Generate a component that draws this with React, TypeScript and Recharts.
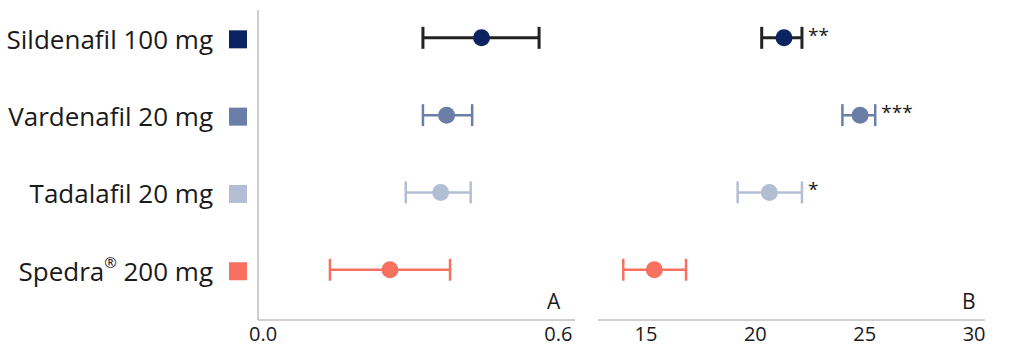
import React from "react";
import {
  ScatterChart,
  Scatter,
  XAxis,
  YAxis,
  ErrorBar,
} from "recharts";

const categories = ["Sildenafil 100 mg", "Vardenafil 20 mg", "Tadalafil 20 mg", "Spedra® 200 mg"];
const colors = ["#0b2461", "#6a7ea8", "#b3bed5", "#f8705f"];
const barColors = ["#222222", "#6a7ea8", "#b3bed5", "#f8705f"];
const barWidths = [3, 2.5, 2.5, 2.5];

// panel A
const aMean = [0.444, 0.373, 0.361, 0.258];
const aLow = [0.325, 0.325, 0.29, 0.136];
const aHigh = [0.561, 0.425, 0.422, 0.38];
const aTicks = [0, 0.6];

// panel B
const bMean = [21.31, 24.79, 20.64, 15.38];
const bLow = [20.29, 23.98, 19.19, 13.96];
const bHigh = [22.13, 25.48, 22.13, 16.83];
const bSig = ["**", "***", "*", ""];
const bTicks = [15, 20, 25, 30];

const FONT = "'Open Sans', sans-serif";
const rows = [0, 1, 2, 3];
const yDomain: [number, number] = [-0.36, 3.65];

const pointsFor = (mean: number[], low: number[], high: number[], i: number) => [
  { x: mean[i], y: i, err: [mean[i] - low[i], high[i] - mean[i]] },
];

const dot = (color: string) => (p: any) => (
  <circle cx={p.cx} cy={p.cy} r={8.5} fill={color} />
);

// splits "®" out so it can be drawn as a superscript
const labelParts = (s: string) => {
  const k = s.indexOf("®");
  if (k < 0) return <>{s}</>;
  return (
    <>
      {s.slice(0, k)}
      <tspan fontSize={15} dy={-9}>®</tspan>
      <tspan dy={9}>{s.slice(k + 1)}</tspan>
    </>
  );
};

const RowTick = (props: any) => {
  const { y, payload } = props;
  const i = payload.value as number;
  return (
    <g>
      <text
        x={213}
        y={y + 1}
        textAnchor="end"
        dominantBaseline="central"
        fontSize={26}
        fontFamily={FONT}
        fill="#1a1a1a"
      >
        {labelParts(categories[i])}
      </text>
      <rect x={229} y={y - 7.5} width={18} height={18} fill={colors[i]} />
    </g>
  );
};

const NumTick = (fmt: (v: number) => string) => (props: any) => {
  const { x, y, payload } = props;
  return (
    <text
      x={x}
      y={y + 13}
      textAnchor="middle"
      fontSize={20}
      fontFamily={FONT}
      fill="#1a1a1a"
    >
      {fmt(payload.value)}
    </text>
  );
};

const SigMark = (p: any) => (
  <text x={p.cx + 6} y={p.cy + 4} fontSize={19} fontFamily={FONT} fill="#1a1a1a">
    {p.payload.sig}
  </text>
);

export default function App() {
  const sigData = bSig
    .map((s, i) => ({ x: bHigh[i], y: i, sig: s }))
    .filter((d) => d.sig !== "");

  return (
    <div style={{ position: "absolute", left: 0, top: 0, width: 1024, height: 351, background: "#fff", fontFamily: FONT }}>
      <div style={{ position: "absolute", left: 0, top: 0 }}>
        <ScatterChart width={590} height={351} margin={{ top: 10, right: 15, bottom: 6, left: 0 }}>
          <XAxis
            type="number"
            dataKey="x"
            domain={[-0.0102, 0.634]}
            ticks={aTicks}
            tickLine={false}
            axisLine={{ stroke: "#a0a0a0" }}
            tick={NumTick((v) => v.toFixed(1))}
            height={25}
            allowDataOverflow
          />
          <YAxis
            type="number"
            dataKey="y"
            domain={yDomain}
            ticks={rows}
            reversed
            width={258}
            tickLine={false}
            axisLine={{ stroke: "#a0a0a0" }}
            tick={<RowTick />}
            allowDataOverflow
          />
          {rows.map((i) => (
            <Scatter
              key={i}
              data={pointsFor(aMean, aLow, aHigh, i)}
              shape={dot(colors[i])}
              isAnimationActive={false}
            >
              <ErrorBar
                dataKey="err"
                direction="x"
                width={11}
                stroke={barColors[i]}
                strokeWidth={barWidths[i]}
                isAnimationActive={false}
              />
            </Scatter>
          ))}
        </ScatterChart>
      </div>
      <div style={{ position: "absolute", left: 590, top: 0 }}>
        <ScatterChart width={434} height={351} margin={{ top: 10, right: 39, bottom: 6, left: 8 }}>
          <XAxis
            type="number"
            dataKey="x"
            domain={[12.805, 30.5]}
            ticks={bTicks}
            tickLine={false}
            axisLine={{ stroke: "#a0a0a0" }}
            tick={NumTick((v) => String(v))}
            height={25}
            allowDataOverflow
          />
          <YAxis
            type="number"
            dataKey="y"
            domain={yDomain}
            ticks={rows}
            reversed
            width={0}
            tick={false}
            tickLine={false}
            axisLine={{ stroke: "#a0a0a0" }}
            allowDataOverflow
          />
          {rows.map((i) => (
            <Scatter
              key={i}
              data={pointsFor(bMean, bLow, bHigh, i)}
              shape={dot(colors[i])}
              isAnimationActive={false}
            >
              <ErrorBar
                dataKey="err"
                direction="x"
                width={11}
                stroke={barColors[i]}
                strokeWidth={barWidths[i]}
                isAnimationActive={false}
              />
            </Scatter>
          ))}
          <Scatter data={sigData} shape={SigMark} isAnimationActive={false} />
        </ScatterChart>
      </div>
      <span style={{ position: "absolute", left: 547, top: 287, fontSize: 21, lineHeight: "normal", color: "#1a1a1a" }}>A</span>
      <span style={{ position: "absolute", left: 962, top: 287, fontSize: 21, lineHeight: "normal", color: "#1a1a1a" }}>B</span>
    </div>
  );
}
